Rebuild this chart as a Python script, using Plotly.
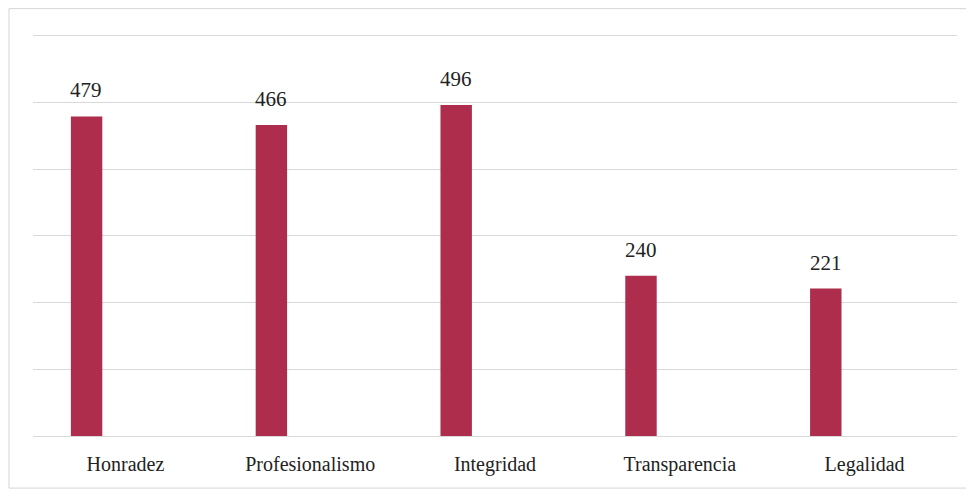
import plotly.graph_objects as go

categories = ["Honradez", "Profesionalismo", "Integridad", "Transparencia", "Legalidad"]
values = [479, 466, 496, 240, 221]

bar_color = "#AE2C4C"
font_family = "Liberation Serif, Times New Roman, serif"

fig = go.Figure()
fig.add_trace(go.Bar(
    x=categories,
    y=values,
    marker=dict(color=bar_color, line=dict(width=0)),
    width=0.17,
    offset=-0.295,
    hoverinfo="x+y",
))

for c, v in zip(categories, values):
    fig.add_annotation(
        x=c, y=v, text=str(v), showarrow=False,
        xanchor="center", yanchor="bottom",
        xshift=-39, yshift=12,
        font=dict(family=font_family, size=21, color="#222222"),
    )

# faint frame around the chart
fig.add_shape(type="rect", xref="paper", yref="paper",
              x0=-0.026, x1=1.016, y0=-0.128, y1=1.05,
              line=dict(color="#D6D6D6", width=1), layer="below")

fig.update_layout(
    width=966, height=486,
    margin=dict(l=25, r=17, t=21, b=58),
    paper_bgcolor="white",
    plot_bgcolor="white",
    showlegend=False,
    font=dict(family=font_family, color="#222222"),
    xaxis=dict(
        showgrid=False, showline=False, zeroline=False,
        ticks="", tickfont=dict(family=font_family, size=20, color="#222222"),
        ticklabelstandoff=14,
    ),
    yaxis=dict(
        range=[0, 610], tick0=0, dtick=100, showgrid=True, gridcolor="#D9D9D9", gridwidth=1,
        showticklabels=False, zeroline=True, zerolinecolor="#D9D9D9", zerolinewidth=1,
        showline=False,
    ),
)

fig.write_html("out.html")
